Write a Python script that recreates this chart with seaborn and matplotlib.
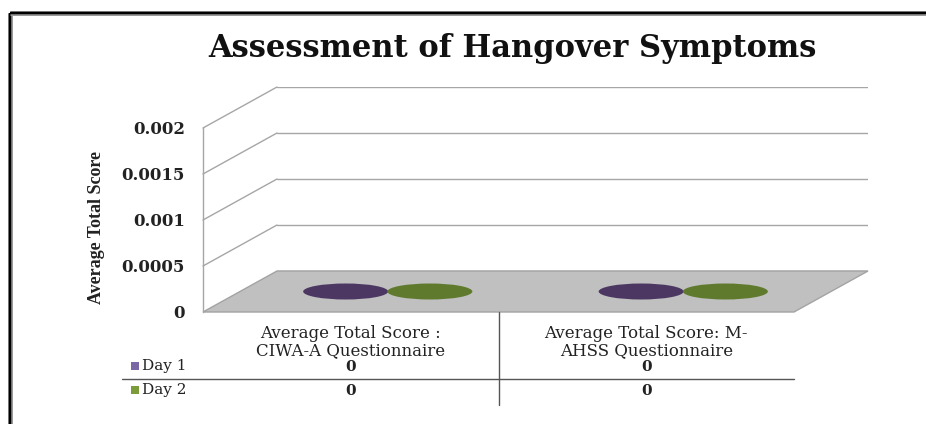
import numpy as np
import pandas as pd
import matplotlib
matplotlib.use("Agg")
import matplotlib.pyplot as plt
import matplotlib.transforms as mtransforms
from matplotlib.patches import Polygon, Rectangle, ConnectionPatch
from matplotlib.path import Path
from matplotlib.lines import Line2D
import seaborn as sns

# chart data
TITLE = "Assessment of Hangover Symptoms"
Y_LABEL = "Average Total Score"
categories = ["Average Total Score :\nCIWA-A Questionnaire",
              "Average Total Score: M-\nAHSS Questionnaire"]
days = ["Day 1", "Day 2"]
day1_scores = [0, 0]
day2_scores = [0, 0]
y_ticks = [0, 0.0005, 0.001, 0.0015, 0.002]
y_tick_labels = ["0", "0.0005", "0.001", "0.0015", "0.002"]

# colours
bar_colors = {"Day 1": "#4b3762", "Day 2": "#5f7a2c"}
key_colors = {"Day 1": "#7a67a3", "Day 2": "#7c9c3a"}
GRID = "#a6a6a6"

W, H, DPI = 926, 424, 100
BAR_W = 0.285          # width of one bar, in category units
DX, DY = 74, 41        # depth of the fake 3D box, pixels
FRONT = (203, 128, 794, 312)

sns.set_theme(style="white")
plt.rcParams["font.family"] = ["DejaVu Serif"]

fig = plt.figure(figsize=(W / DPI, H / DPI), dpi=DPI)


def px_box(left, top, right, bottom):
    return [left / W, 1 - bottom / H, (right - left) / W, (bottom - top) / H]


def shifted(box, k):
    l, t, r, b = box
    return (l + k * DX, t - k * DY, r + k * DX, b - k * DY)


def fy(y):
    return 1 - y / H


# three planes: back wall, middle (bars), front (axis)
ax_back = fig.add_axes(px_box(*shifted(FRONT, 1.0)), zorder=0)
ax_mid = fig.add_axes(px_box(*shifted(FRONT, 0.5)), zorder=2)
ax_front = fig.add_axes(px_box(*FRONT), zorder=3)

for ax in (ax_back, ax_mid, ax_front):
    ax.set_facecolor("none")

### Back wall gridlines ###
ax_back.set_yticks(y_ticks)
ax_back.yaxis.grid(True, color=GRID, lw=1)
ax_back.set_xticks([])
ax_back.tick_params(left=False, labelleft=False)
for s in ax_back.spines.values():
    s.set_visible(False)

### Bars (zero height -> only the top ellipse shows) ###
df = pd.DataFrame({
    "category": categories * 2,
    "day": [days[0]] * len(categories) + [days[1]] * len(categories),
    "score": day1_scores + day2_scores,
})
df["pos"] = [categories.index(c) + (days.index(d) - 0.5) * BAR_W
             for c, d in zip(df["category"], df["day"])]

circle = Path.unit_circle()
ellipse = Path(circle.vertices * np.array([1.0, 16 / 85]), circle.codes)
size_pt = 85 * 72 / DPI
sns.scatterplot(data=df, x="pos", y="score", hue="day", palette=bar_colors,
                marker=ellipse, s=size_pt ** 2, linewidth=0, legend=False,
                ax=ax_mid, clip_on=False, zorder=3)
ax_mid.axis("off")

for ax in (ax_back, ax_mid, ax_front):
    ax.set_xlim(-0.5, len(categories) - 0.5)
    ax.set_ylim(y_ticks[0], y_ticks[-1])

### Floor ###
def to_fig(ax, x, y):
    return fig.transFigure.inverted().transform(ax.transData.transform((x, y)))

x0, x1 = ax_front.get_xlim()
floor = [to_fig(ax_front, x0, 0), to_fig(ax_front, x1, 0),
         to_fig(ax_back, x1, 0), to_fig(ax_back, x0, 0)]
fig.add_artist(Polygon(floor, closed=True, transform=fig.transFigure,
                       facecolor="#c0c0c0", edgecolor="#a3a3a3", lw=1, zorder=1))

# side wall connectors
for t in y_ticks[1:]:
    fig.add_artist(ConnectionPatch(xyA=(x0, t), coordsA=ax_front.transData,
                                   xyB=(x0, t), coordsB=ax_back.transData,
                                   color=GRID, lw=1, zorder=1))

### Front axis ###
ax_front.set_xticks([])
ax_front.set_yticks(y_ticks)
ax_front.set_yticklabels(y_tick_labels, fontweight="bold", fontsize=12, color="#222222")
ax_front.tick_params(axis="y", length=0, pad=13)
for name, s in ax_front.spines.items():
    s.set_visible(name == "left")
ax_front.spines["left"].set_color(GRID)
ax_front.spines["left"].set_linewidth(1)
ax_front.set_ylabel(Y_LABEL, family=["Liberation Serif"], fontweight="bold",
                    fontsize=13, color="#222222")
ax_front.yaxis.set_label_coords((105 - FRONT[0]) / (FRONT[2] - FRONT[0]),
                                (FRONT[3] - 228) / (FRONT[3] - FRONT[1]))

### Data table ###
tbl = mtransforms.blended_transform_factory(ax_front.transData, fig.transFigure)
for i, cat in enumerate(categories):
    fig.text(i, fy(342), cat, transform=tbl, ha="center", va="center",
             fontsize=12, linespacing=1.0, color="#222222")
    fig.text(i, fy(367), f"{day1_scores[i]:g}", transform=tbl, ha="center",
             va="center", fontsize=11, fontweight="bold", color="#222222")
    fig.text(i, fy(391), f"{day2_scores[i]:g}", transform=tbl, ha="center",
             va="center", fontsize=11, fontweight="bold", color="#222222")

fig.add_artist(Line2D([0.5, 0.5], [fy(312), fy(405)], transform=tbl,
                      color="#555555", lw=1))
fig.add_artist(Line2D([122 / W, to_fig(ax_front, x1, 0)[0]], [fy(379), fy(379)],
                      transform=fig.transFigure, color="#555555", lw=1))

for d, yy in zip(days, [366, 390]):
    fig.add_artist(Rectangle((131 / W, fy(yy + 4)), 8 / W, 8 / H,
                             transform=fig.transFigure, color=key_colors[d], lw=0))
    fig.text(142 / W, fy(yy), d, ha="left", va="center", fontsize=11,
             color="#222222")

### Title ###
fig.text(512 / W, fy(48), TITLE, ha="center", va="center", fontsize=22,
         fontweight="bold", color="#111111")

### Outer frame (left and top edges) ###
for xs, ys in [([10 / W, 10 / W], [fy(13), 0]), ([10 / W, 1], [fy(13), fy(13)])]:
    fig.add_artist(Line2D(xs, ys, transform=fig.transFigure, color="#9a9a9a",
                          lw=5 * 0.72, solid_capstyle="butt"))
    fig.add_artist(Line2D(xs, ys, transform=fig.transFigure, color="black",
                          lw=2.5 * 0.72, solid_capstyle="butt"))

plt.savefig("out.png", dpi=DPI)
